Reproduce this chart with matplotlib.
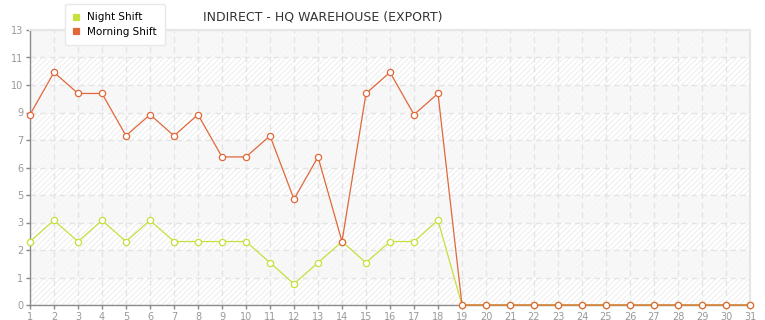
import matplotlib
matplotlib.use("Agg")
import matplotlib.pyplot as plt
from matplotlib.patches import Rectangle
import numpy as np

# данные
days = list(range(1, 32))
night = [3, 4, 3, 4, 3, 4, 3, 3, 3, 3, 2, 1, 2, 3, 2, 3, 3, 4] + [0] * 13
morning = [9, 11, 10, 10, 8, 9, 8, 9, 7, 7, 8, 5, 7, 3, 10, 11, 9, 10] + [0] * 13
series_names = ["Night Shift", "Morning Shift"]
title = "INDIRECT - HQ WAREHOUSE (EXPORT)"

y_max = 13
y_ticks = np.linspace(0, y_max, 11)

night_color = "#c6e03c"
morning_color = "#e0683a"
grey = "#999999"

fig = plt.figure(figsize=(7.65, 3.2), dpi=100)
ax = fig.add_axes([30 / 765, 15 / 320, 720 / 765, 275 / 320])
ax.set_xlim(1, 31)
ax.set_ylim(0, y_max)

# фон: штриховка и полосы
plt.rcParams["hatch.linewidth"] = 0.7
ax.add_patch(Rectangle((0, 0), 1, 1, transform=ax.transAxes, facecolor="white",
                       edgecolor="#ededed", hatch="//////", lw=0, zorder=0))
for i in range(len(y_ticks) - 1):
    if i % 2 == 1:
        ax.axhspan(y_ticks[i], y_ticks[i + 1], color="#f7f7f7", alpha=0.8, lw=0, zorder=0.5)

ax.set_xticks(days)
ax.set_yticks(y_ticks)
ax.set_yticklabels([str(int(v)) for v in y_ticks])
ax.grid(True, color="#e4e4e4", linestyle=(0, (4, 3)), linewidth=1, zorder=1)
ax.tick_params(colors="#888888", labelcolor=grey, labelsize=7, length=3, width=1)
ax.tick_params(axis="x", pad=2)
ax.tick_params(axis="y", pad=2)

for side in ["left", "bottom"]:
    ax.spines[side].set_color("#8c8c8c")
    ax.spines[side].set_linewidth(1)
for side in ["top", "right"]:
    ax.spines[side].set_color("#e6e6e6")
    ax.spines[side].set_linewidth(1.5)

ax.plot(days, night, color=night_color, lw=0.9, marker="o", markersize=4.5,
        markerfacecolor="white", markeredgecolor=night_color, markeredgewidth=0.9,
        clip_on=False, zorder=3, label=series_names[0])
ax.plot(days, morning, color=morning_color, lw=0.9, marker="o", markersize=4.5,
        markerfacecolor="white", markeredgecolor=morning_color, markeredgewidth=0.9,
        clip_on=False, zorder=4, label=series_names[1])

fig.text(323 / 765, 1 - 17 / 320, title, ha="center", va="center", fontsize=9, color="#333333")

leg = ax.legend(loc="lower left", bbox_to_anchor=(65 / 765, 1 - 45 / 320),
                bbox_transform=fig.transFigure, fontsize=7.5, frameon=True, fancybox=True,
                shadow=False, handlelength=0.5, handletextpad=0.85, borderpad=0.8,
                borderaxespad=0, labelspacing=0.4, markerscale=1, framealpha=1)
leg.get_frame().set_edgecolor("#e8e8e8")
leg.get_frame().set_linewidth(1)
leg.set_zorder(10)
# квадратные маркеры в легенде
for h, c in zip(leg.legend_handles, [night_color, morning_color]):
    h.set_marker("s")
    h.set_markersize(4)
    h.set_markerfacecolor(c)
    h.set_markeredgecolor(c)
    h.set_linestyle("none")

fig.savefig("out.png", dpi=100)
